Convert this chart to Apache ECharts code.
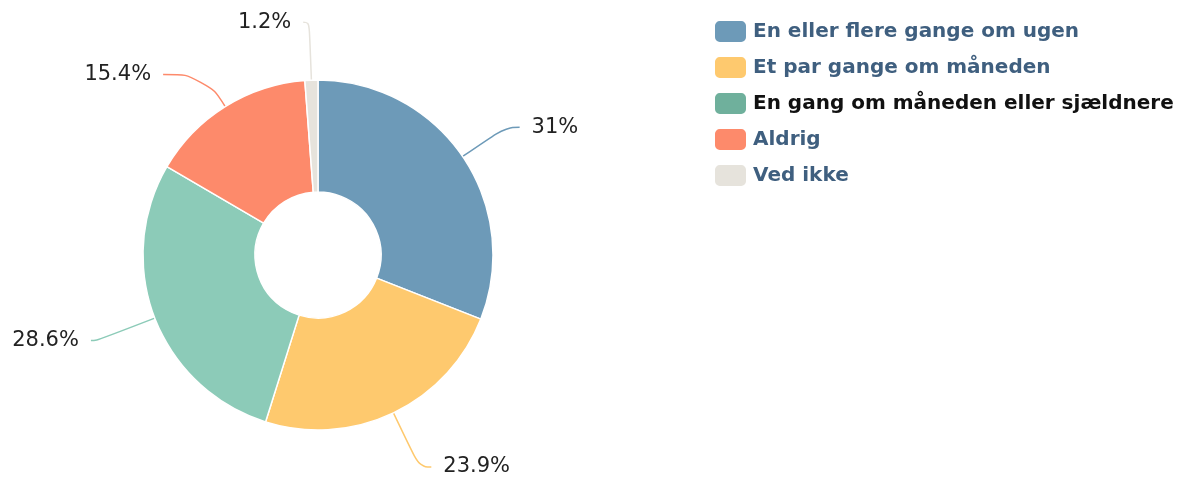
<!DOCTYPE html>
<html><head><meta charset="utf-8">
<script src="https://cdn.jsdelivr.net/npm/echarts@6/dist/echarts.min.js"></script>
<style>html,body{margin:0;padding:0;background:#fff}#c{width:1200px;height:485px}</style>
</head><body><div id="c"></div>
<script>
const categories = ["En eller flere gange om ugen","Et par gange om måneden","En gang om måneden eller sjældnere","Aldrig","Ved ikke"];
const values = [31, 23.9, 28.6, 15.4, 1.2];
const colors = ["#6d9ab8","#fec96e","#8ccbb8","#fd8a6b","#e6e3dc"];
const legendColors = ["#6d9ab8","#fec96e","#6fb09c","#fd8a6b","#e6e3dc"];
const legendTextColors = ["#3f5f7f","#3f5f7f","#111111","#3f5f7f","#3f5f7f"];
const lineLengths = [[52,14],[60,12],[62,6],[38,42],[58,6]];
const chart = echarts.init(document.getElementById('c'), null, {renderer:'canvas'});
chart.setOption({
  animation:false,
  legend:{
    orient:'vertical', left:708, top:14, itemWidth:33, itemHeight:23, itemGap:11,
    icon:'roundRect',
    textStyle:{fontFamily:'DejaVu Sans', fontSize:20, fontWeight:'bold', color:'#41607f', padding:[0,0,0,1]},
    data: categories.map((n,i)=>({name:n, itemStyle:{color:legendColors[i]}, textStyle:{color:legendTextColors[i]}}))
  },
  series:[{
    type:'pie', center:[318,255], radius:[63,175], startAngle:90, clockwise:true,
    color:colors,
    data: categories.map((n,i)=>({name:n, value:values[i], labelLine:{length:lineLengths[i][0], length2:lineLengths[i][1]}})),
    label:{formatter:p=>p.value+'%', fontFamily:'DejaVu Sans', fontSize:21, color:'#222', distanceToLabelLine:12, overflow:'none'},
    labelLine:{smooth:0.5, lineStyle:{width:1.5}},
    itemStyle:{borderColor:'#fff', borderWidth:1.5},
    emphasis:{disabled:true}
  }]
});
</script></body></html>
